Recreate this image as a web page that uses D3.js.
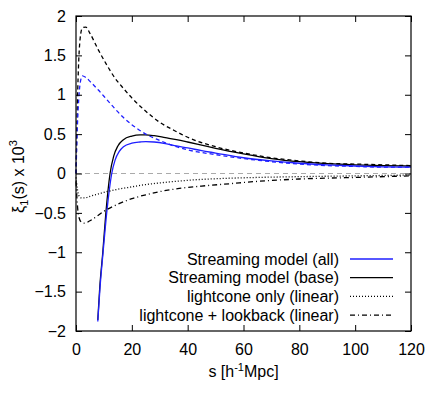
<!DOCTYPE html>
<html>
<head>
<meta charset="utf-8">
<script src="https://cdn.jsdelivr.net/npm/d3@7"></script>
<style>
  body { margin: 0; background: #fff; }
  text { font-family: "Liberation Sans", Arial, sans-serif; }
</style>
</head>
<body>
<div id="chart"></div>
<script>
// Valores (s en h^-1 Mpc, xi_1 x 10^3)
const sAllSolid = [7.8, 8.6, 9.7, 11, 12.8, 14, 15.5, 17, 20, 23, 25, 28, 32, 36, 40, 45, 50, 60, 70, 80, 90, 100, 110, 120];
const allSolid = [-1.88, -1.45, -1.0, -0.5, 0, 0.17, 0.28, 0.34, 0.385, 0.40, 0.405, 0.40, 0.38, 0.35, 0.325, 0.29, 0.26, 0.2, 0.16, 0.13, 0.11, 0.095, 0.085, 0.08];

const sBaseSolid = [7.8, 8.5, 9.6, 10.7, 12.2, 13.5, 15, 17, 20, 23, 25, 28, 32, 36, 40, 45, 50, 60, 70, 80, 90, 100, 110, 120];
const baseSolid = [-1.86, -1.45, -1.0, -0.5, 0, 0.22, 0.35, 0.43, 0.475, 0.49, 0.49, 0.48, 0.455, 0.43, 0.40, 0.36, 0.32, 0.25, 0.19, 0.15, 0.125, 0.11, 0.1, 0.095];

const sDashed = [0, 0.5, 1, 1.5, 2.3, 3.5, 5, 8, 11, 14, 17, 20, 25, 30, 35, 40, 50, 60, 70, 80, 90, 100, 110, 120];
const allDashed = [0, 0.6, 0.95, 1.15, 1.24, 1.22, 1.17, 1.06, 0.94, 0.82, 0.71, 0.62, 0.5, 0.42, 0.35, 0.3, 0.24, 0.19, 0.15, 0.12, 0.1, 0.09, 0.08, 0.08];
const baseDashed = [0, 0.9, 1.45, 1.72, 1.85, 1.86, 1.78, 1.57, 1.38, 1.21, 1.08, 0.96, 0.79, 0.65, 0.55, 0.46, 0.34, 0.26, 0.2, 0.16, 0.13, 0.12, 0.11, 0.1];

const sLinear = [0, 0.5, 1, 2, 3, 5, 8, 10, 15, 20, 25, 30, 37, 45, 55, 65, 80, 100, 120];
const lightcone = [-0.05, -0.2, -0.28, -0.31, -0.31, -0.29, -0.26, -0.24, -0.2, -0.17, -0.14, -0.12, -0.095, -0.075, -0.06, -0.05, -0.04, -0.03, -0.02];
const lookback = [-0.1, -0.4, -0.55, -0.62, -0.63, -0.6, -0.53, -0.48, -0.39, -0.32, -0.27, -0.23, -0.19, -0.16, -0.13, -0.1, -0.07, -0.05, -0.03];

const xTicks = [0, 20, 40, 60, 80, 100, 120];
const yTicks = [-2, -1.5, -1, -0.5, 0, 0.5, 1, 1.5, 2];

const series = [
  { s: sBaseSolid, v: baseSolid, color: "#000", dash: null, label: "Streaming model (base)" },
  { s: sAllSolid, v: allSolid, color: "#1f1fff", dash: null, label: "Streaming model (all)" },
  { s: sDashed, v: baseDashed, color: "#000", dash: "4,3" },
  { s: sDashed, v: allDashed, color: "#1f1fff", dash: "4,3" },
  { s: sLinear, v: lightcone, color: "#000", dash: "1,2", label: "lightcone only (linear)" },
  { s: sLinear, v: lookback, color: "#000", dash: "5,3,1,3", label: "lightcone + lookback (linear)" }
];

const width = 439, height = 400;
const margin = { top: 16, right: 28, bottom: 69, left: 76 };
const fontSize = 16;

const svg = d3.select("#chart").append("svg")
  .attr("width", width)
  .attr("height", height);

const x = d3.scaleLinear().domain([0, 120]).range([margin.left, width - margin.right]);
const y = d3.scaleLinear().domain([-2, 2]).range([height - margin.bottom, margin.top]);

// linea de cero gris
svg.append("line")
  .attr("x1", x(0)).attr("x2", x(120))
  .attr("y1", y(0)).attr("y2", y(0))
  .attr("stroke", "#aaa")
  .attr("stroke-width", 1.2)
  .attr("stroke-dasharray", "5,4");

const line = d3.line()
  .x(d => x(d[0]))
  .y(d => y(d[1]))
  .curve(d3.curveMonotoneX);

series.forEach(sr => {
  svg.append("path")
    .datum(sr.s.map((s, i) => [s, sr.v[i]]))
    .attr("fill", "none")
    .attr("stroke", sr.color)
    .attr("stroke-width", 1.3)
    .attr("stroke-dasharray", sr.dash)
    .attr("d", line);
});

// ejes con ticks hacia adentro
const tickLen = 6;
const fmt = d => d === 0 ? "0" : d3.format("")(d);

svg.append("g")
  .attr("transform", `translate(0,${y(-2)})`)
  .call(d3.axisBottom(x).tickValues(xTicks).tickSizeInner(-tickLen).tickSizeOuter(0).tickPadding(13))
  .call(g => g.select(".domain").remove())
  .call(g => g.selectAll("text").attr("font-size", fontSize).attr("fill", "#000"));

svg.append("g")
  .attr("transform", `translate(0,${y(2)})`)
  .call(d3.axisTop(x).tickValues(xTicks).tickSizeInner(-tickLen).tickSizeOuter(0).tickFormat(""))
  .call(g => g.select(".domain").remove());

svg.append("g")
  .attr("transform", `translate(${x(0)},0)`)
  .call(d3.axisLeft(y).tickValues(yTicks).tickSizeInner(-tickLen).tickSizeOuter(0).tickPadding(10).tickFormat(fmt))
  .call(g => g.select(".domain").remove())
  .call(g => g.selectAll("text").attr("font-size", fontSize).attr("fill", "#000"));

svg.append("g")
  .attr("transform", `translate(${x(120)},0)`)
  .call(d3.axisRight(y).tickValues(yTicks).tickSizeInner(-tickLen).tickSizeOuter(0).tickFormat(""))
  .call(g => g.select(".domain").remove());

svg.append("rect")
  .attr("x", x(0)).attr("y", y(2))
  .attr("width", x(120) - x(0)).attr("height", y(-2) - y(2))
  .attr("fill", "none").attr("stroke", "#000").attr("stroke-width", 1.2);

// leyenda
const legendItems = [series[1], series[0], series[4], series[5]];
const legend = svg.append("g");
legendItems.forEach((sr, i) => {
  const ly = 259 + i * 18.7;
  legend.append("text")
    .attr("x", 339).attr("y", ly + 5.5)
    .attr("text-anchor", "end")
    .attr("font-size", fontSize)
    .text(sr.label);
  legend.append("line")
    .attr("x1", 350).attr("x2", 393)
    .attr("y1", ly).attr("y2", ly)
    .attr("stroke", sr.color)
    .attr("stroke-width", 1.3)
    .attr("stroke-dasharray", sr.dash);
});

// titulos de ejes
const xl = svg.append("text")
  .attr("x", (x(0) + x(120)) / 2).attr("y", 377)
  .attr("text-anchor", "middle")
  .attr("font-size", fontSize);
xl.append("tspan").text("s [h");
xl.append("tspan").attr("dy", -6).attr("font-size", 11).text("-1");
xl.append("tspan").attr("dy", 6).text("Mpc]");

const yl = svg.append("text")
  .attr("transform", `translate(24,${(y(-2) + y(2)) / 2 + 3}) rotate(-90)`)
  .attr("text-anchor", "middle")
  .attr("font-size", fontSize);
yl.append("tspan").text("ξ");
yl.append("tspan").attr("dy", 4).attr("font-size", 11).text("1");
yl.append("tspan").attr("dy", -4).text("(s) x 10");
yl.append("tspan").attr("dy", -7).attr("font-size", 11).text("3");
</script>
</body>
</html>
